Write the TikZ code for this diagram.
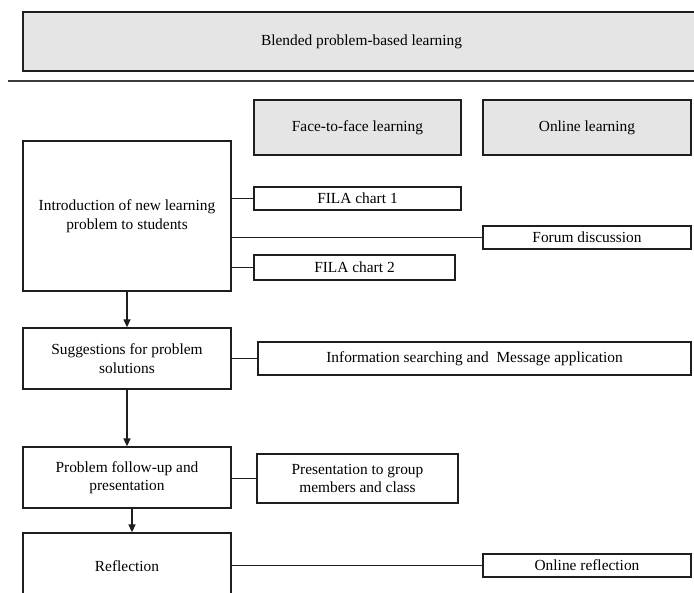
\documentclass[tikz,border=0pt]{standalone}
\usepackage{fontspec}
\setmainfont{Liberation Serif}
\usepackage{tikz}
\usetikzlibrary{arrows.meta}
\definecolor{boxgray}{RGB}{229,229,229}
\definecolor{boxedge}{RGB}{30,30,30}
\definecolor{rulegray}{RGB}{60,60,60}
\tikzset{stage/.style = {draw=boxedge, line width=1.3pt, rectangle, inner sep=0pt,
                         align=center, font=\fontsize{15.4pt}{18.5pt}\selectfont},
         header/.style = {stage, fill=boxgray},
         link/.style = {draw=boxedge, line width=1.3pt},
         flow/.style = {link, -{Triangle[width=7pt,length=8pt]}}}

\begin{document}
\begin{tikzpicture}[x=1pt,y=-1pt]
            \useasboundingbox (0,0) rectangle (694,593);
            \clip (0,0) rectangle (694,593);
            \node[header, minimum width=677pt, minimum height=59pt] (bpbl) at (361.5,41.5) {Blended problem-based learning};
            \draw[rulegray, line width=2pt] (8,81.5) -- (700,81.5);
            \node[header, minimum width=207pt, minimum height=55pt] (f2f) at (357.5,127.5) {Face-to-face learning};
            \node[header, minimum width=208pt, minimum height=55pt] (online) at (587,127.5) {Online learning};
            \node[stage, minimum width=208pt, minimum height=150pt] (intro) at (127,216) {Introduction of new learning\\problem to students};
            \node[stage, minimum width=207pt, minimum height=23pt] (fila1) at (357.5,198.5) {FILA chart 1};
            \node[stage, minimum width=208pt, minimum height=23pt] (forum) at (587,237.5) {Forum discussion};
            \node[stage, minimum width=201pt, minimum height=25pt] (fila2) at (354.5,267.5) {FILA chart 2};
            \node[stage, minimum width=208pt, minimum height=61pt] (sugg) at (127,358.5) {Suggestions for problem\\solutions};
            \node[stage, minimum width=433pt, minimum height=33pt] (info) at (474.5,358.5) {Information searching and~ Message application};
            \node[stage, minimum width=208pt, minimum height=61pt] (follow) at (127,477.5) {Problem follow-up and\\presentation};
            \node[stage, minimum width=201pt, minimum height=49pt] (pres) at (357.5,478.5) {Presentation to group\\members and class};
            \node[stage, minimum width=208pt, minimum height=66pt] (refl) at (127,566) {Reflection};
            \node[stage, minimum width=208pt, minimum height=23pt] (orefl) at (587,565.5) {Online reflection};
            \draw[link] (fila1.west -| intro.east) -- (fila1.west);
            \draw[link] (forum.west -| intro.east) -- (forum.west);
            \draw[link] (fila2.west -| intro.east) -- (fila2.west);
            \draw[link] (sugg.east) -- (info.west);
            \draw[link] (pres.west -| follow.east) -- (pres.west);
            \draw[link] (orefl.west -| refl.east) -- (orefl.west);
            \draw[flow] (intro.south) -- (sugg.north);
            \draw[flow] (sugg.south) -- (follow.north);
            \draw[flow] ([xshift=5pt]follow.south) -- ([xshift=5pt]refl.north);
        \end{tikzpicture}
\end{document}
